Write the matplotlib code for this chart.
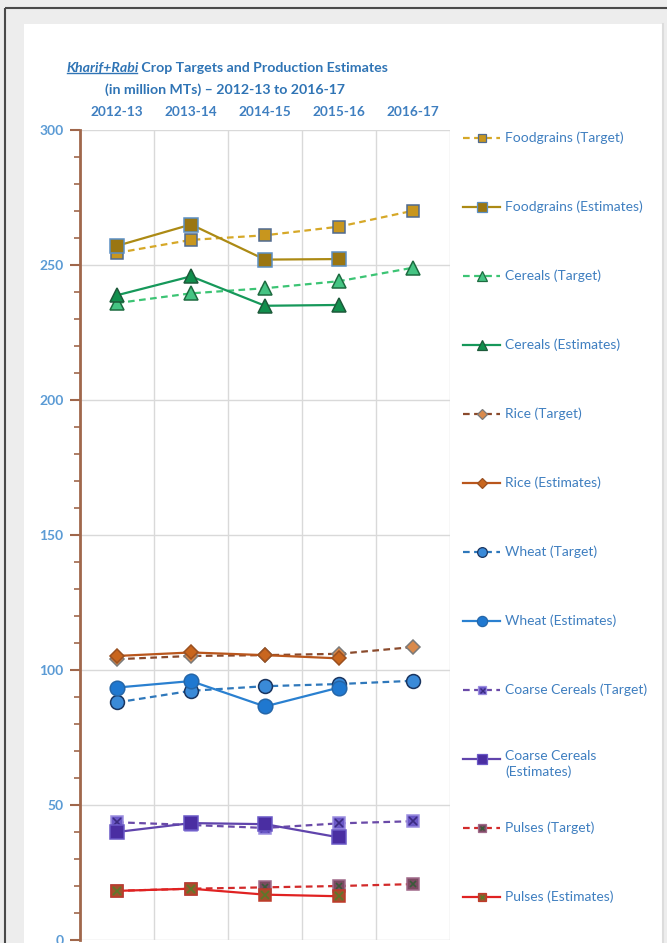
import numpy as np
import matplotlib.pyplot as plt
from matplotlib.patches import Rectangle

plt.rcParams['font.family'] = ['Lato', 'DejaVu Sans']

years = ['2012-13', '2013-14', '2014-15', '2015-16', '2016-17']

foodgrains_target = [254.5, 259.3, 261.0, 264.2, 270.1]
foodgrains_est = [257.1, 265.0, 252.0, 252.2]
cereals_target = [235.9, 239.5, 241.4, 244.0, 249.0]
cereals_est = [238.8, 245.8, 234.9, 235.2]
rice_target = [104.0, 105.2, 105.5, 106.0, 108.5]
rice_est = [105.2, 106.5, 105.5, 104.3]
wheat_target = [88.0, 92.3, 94.0, 94.8, 96.0]
wheat_est = [93.5, 95.9, 86.5, 93.5]
coarse_target = [43.6, 42.6, 41.5, 43.2, 44.0]
coarse_est = [40.0, 43.3, 42.9, 38.0]
pulses_target = [18.2, 19.0, 19.5, 20.0, 20.7]
pulses_est = [18.2, 19.0, 16.8, 16.2]

labels = ['Foodgrains (Target)', 'Foodgrains (Estimates)',
          'Cereals (Target)', 'Cereals (Estimates)',
          'Rice (Target)', 'Rice (Estimates)',
          'Wheat (Target)', 'Wheat (Estimates)',
          'Coarse Cereals (Target)', 'Coarse Cereals\n(Estimates)',
          'Pulses (Target)', 'Pulses (Estimates)']

values = [foodgrains_target, foodgrains_est, cereals_target, cereals_est,
          rice_target, rice_est, wheat_target, wheat_est,
          coarse_target, coarse_est, pulses_target, pulses_est]

# line colour, dashed?, marker, size, face, edge, cross colour (None = no cross)
styles = [
    ('#d6a828', True, 's', 9, '#c8961e', '#4f6a8f', None),
    ('#ac8a14', False, 's', 10, '#9a7612', '#5b8fc4', None),
    ('#3cc474', True, '^', 10, '#45c483', '#1d6b40', None),
    ('#16985a', False, '^', 10, '#118f4d', '#1d5a3a', None),
    ('#8a4a2c', True, 'D', 7, '#d98a4c', '#7a7a7a', None),
    ('#b9561c', False, 'D', 7, '#c9661e', '#9a5020', None),
    ('#2f78bb', True, 'o', 10, '#3a8ad8', '#1a3560', None),
    ('#2a80d0', False, 'o', 10.5, '#1f78d0', '#2566a8', None),
    ('#6a4aa8', True, 's', 9, '#6a58c6', '#9c8fe0', '#3a2a80'),
    ('#6044ac', False, 's', 9.5, '#4a2ea2', '#6a58c6', None),
    ('#d22a2a', True, 's', 8, '#7c4a62', '#a06a8a', '#3a5a3a'),
    ('#e02222', False, 's', 8.5, '#a0522d', '#c03a2a', '#5a7a2a'),
]

W, H = 667, 943
fig = plt.figure(figsize=(W / 100, H / 100), dpi=100)
fig.patch.set_facecolor('#ededed')

# pixel-space layer for the frame, title and legend
px = fig.add_axes([0, 0, 1, 1], zorder=0)
px.set_xlim(0, W)
px.set_ylim(H, 0)
px.axis('off')
px.add_patch(Rectangle((24, 24), 638, H - 24, facecolor='white', edgecolor='none'))
px.plot([5, W], [8, 8], color='#4a4a4a', lw=1.5, solid_capstyle='butt')
px.plot([5, 5], [8, H], color='#4a4a4a', lw=1.5, solid_capstyle='butt')
px.plot([663, 663], [24, H], color='#dcdcdc', lw=1.5)

blue = '#2f74b5'
t1 = px.text(66, 68, 'Kharif+Rabi', style='italic', weight='bold',
             fontsize=10.2, color=blue, va='center', ha='left')
px.annotate(' Crop Targets and Production Estimates', xy=(1, 0), xycoords=t1,
            va='bottom', ha='left', weight='bold', fontsize=10.2, color=blue)
px.text(225, 90, '(in million MTs) \u2013 2012-13 to 2016-17', weight='bold',
        fontsize=10.2, color=blue, va='center', ha='center')

# main chart
ax = fig.add_axes([80 / W, (H - 940) / H, 370 / W, 810 / H], zorder=1)
ax.set_facecolor('none')
x = np.arange(len(years))
for vals, (lc, dashed, mk, ms, fc, ec, cc) in zip(values, styles):
    kw = dict(color=lc, lw=1.6, marker=mk, ms=ms, mfc=fc, mec=ec, mew=1.1)
    if dashed:
        kw['dashes'] = (3, 2)
    xs = x[:len(vals)]
    ax.plot(xs, vals, **kw)
    if cc:
        ax.plot(xs, vals, ls='none', marker='x', ms=ms * 0.6, mec=cc, mew=1.2)

ax.set_xlim(-0.5, 4.5)
ax.set_ylim(0, 300)
ax.xaxis.tick_top()
ax.set_xticks(x)
ax.set_xticklabels(years)
ax.set_xticks(np.arange(-0.5, 5), minor=True)
ax.tick_params(axis='x', which='major', length=0, pad=9, labelsize=9.8,
               labelcolor='#3f7fc0')
ax.tick_params(axis='x', which='minor', length=0)
for lbl in ax.get_xticklabels():
    lbl.set_fontweight('bold')

ax.set_yticks(np.arange(0, 301, 50))
ax.set_yticks(np.arange(0, 301, 10), minor=True)
ax.tick_params(axis='y', which='major', length=7, width=1.5, color='#a0674b',
               labelsize=10, labelcolor='#5b9bd5', pad=5)
ax.tick_params(axis='y', which='minor', length=4, width=1.2, color='#a0674b')
for lbl in ax.get_yticklabels():
    lbl.set_fontweight('bold')

ax.grid(axis='y', which='major', color='#d9d9d9', lw=1)
ax.grid(axis='x', which='minor', color='#d9d9d9', lw=1)
ax.set_axisbelow(True)
for side in ['top', 'right', 'bottom']:
    ax.spines[side].set_visible(False)
ax.spines['left'].set_color('#a0674b')
ax.spines['left'].set_linewidth(2)

# legend, one entry per series down the right side
for i, (lab, (lc, dashed, mk, ms, fc, ec, cc)) in enumerate(zip(labels, styles)):
    y = 138 + 69 * i
    kw = dict(color=lc, lw=1.6)
    if dashed:
        kw['dashes'] = (3, 2)
    px.plot([463, 500], [y, y], **kw)
    px.plot([481.5], [y], marker=mk, ms=ms * 0.7, mfc=fc, mec=ec, mew=0.9, ls='none')
    if cc:
        px.plot([481.5], [y], marker='x', ms=ms * 0.4, mec=cc, mew=1, ls='none')
    if '\n' in lab:
        px.text(505, y - 9, lab, fontsize=10, color='#3f7fc0', va='top',
                ha='left', linespacing=1.3)
    else:
        px.text(505, y, lab, fontsize=10, color='#3f7fc0', va='center', ha='left')

# underline the season names in the title
fig.canvas.draw()
bb = t1.get_window_extent()
inv = px.transData.inverted()
(x0, y0), (x1, _) = inv.transform([(bb.x0, bb.y0 + 0.12 * bb.height), (bb.x1, bb.y0)])
px.plot([x0 + 1, x1 - 1], [y0, y0], color=blue, lw=1)

fig.savefig('out.png', dpi=100, facecolor=fig.get_facecolor())
